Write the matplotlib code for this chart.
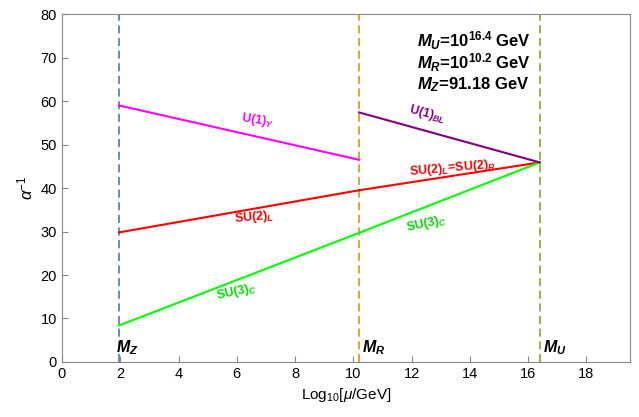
import matplotlib
matplotlib.use("Agg")
import matplotlib.pyplot as plt

plt.rcParams["font.family"] = ["Liberation Sans", "DejaVu Sans"]
plt.rcParams["mathtext.fontset"] = "custom"
plt.rcParams["mathtext.rm"] = "Liberation Sans"
plt.rcParams["mathtext.it"] = "Liberation Sans:bold:italic"
plt.rcParams["mathtext.bf"] = "Liberation Sans:bold"
plt.rcParams["mathtext.sf"] = "Liberation Sans:italic"

# scales (log10 of GeV)
MZ, MR, MU = 1.96, 10.2, 16.4

# inverse couplings
u1y_x, u1y_y = [MZ, MR], [59.0, 46.5]
su2l_x, su2l_y = [MZ, MR], [29.8, 39.5]
lr_x, lr_y = [MR, MU], [39.5, 45.9]
su3_x, su3_y = [MZ, MR, MU], [8.4, 29.7, 45.9]
bl_x, bl_y = [MR, MU], [57.4, 45.9]

fig = plt.figure(figsize=(6.39, 4.17), dpi=100)
ax = fig.add_axes([0.097, 0.132, 0.889, 0.834])

for xv, c in [(MZ, "#5E81B5"), (MR, "#E19C24"), (MU, "#8FB032")]:
    ax.axvline(xv, color=c, lw=1.3, ls=(0, (4.5, 2.5)))

ax.plot(u1y_x, u1y_y, color="#FF00FF", lw=1.5)
ax.plot(su2l_x, su2l_y, color="#FF0000", lw=1.5)
ax.plot(lr_x, lr_y, color="#FF0000", lw=1.5)
ax.plot(su3_x, su3_y, color="#00FF00", lw=1.5)
ax.plot(bl_x, bl_y, color="#800080", lw=1.5)

kw = dict(ha="center", va="center", fontsize=9, fontweight="bold")
ax.text(6.7, 55.6, r"U(1)$_Y$", color="#FF00FF", rotation=-8, **kw)
ax.text(12.55, 56.9, r"U(1)$_{BL}$", color="#800080", rotation=-15, **kw)
ax.text(13.4, 44.6, r"SU(2)$_L$=SU(2)$_R$", color="#FF0000", rotation=5, **kw)
ax.text(6.6, 33.3, r"SU(2)$_L$", color="#FF0000", rotation=5, **kw)
ax.text(12.5, 31.8, r"SU(3)$_C$", color="#00DD00", rotation=12, **kw)
ax.text(6.0, 16.1, r"SU(3)$_C$", color="#00DD00", rotation=12, **kw)

lk = dict(ha="left", va="center", fontsize=11.5)
ax.text(MZ - 0.1, 3.3, r"$M_Z$", **lk)
ax.text(MR + 0.1, 3.3, r"$M_R$", **lk)
ax.text(MU + 0.1, 3.3, r"$M_U$", **lk)

tk = dict(ha="left", va="center", fontsize=12, fontweight="bold")
ax.text(12.2, 73.8, r"$M_U$=10$^{\mathbf{16.4}}$ GeV", **tk)
ax.text(12.2, 68.8, r"$M_R$=10$^{\mathbf{10.2}}$ GeV", **tk)
ax.text(12.2, 63.8, r"$M_Z$=91.18 GeV", **tk)

ax.set_xlim(0, 19.5)
ax.set_ylim(0, 80)
ax.set_xticks(range(0, 20, 2))
ax.set_yticks(range(0, 81, 10))
ax.tick_params(direction="in", length=4, color="#888888", labelsize=10.5, top=False, right=False)
for s in ax.spines.values():
    s.set_color("#888888")
ax.set_xlabel(r"Log$_{10}$[$\mathsf{\mu}$/GeV]", fontsize=11)
ax.set_ylabel(r"$\mathsf{\alpha}^{-1}$", fontsize=12)

fig.savefig("out.png", dpi=100)
